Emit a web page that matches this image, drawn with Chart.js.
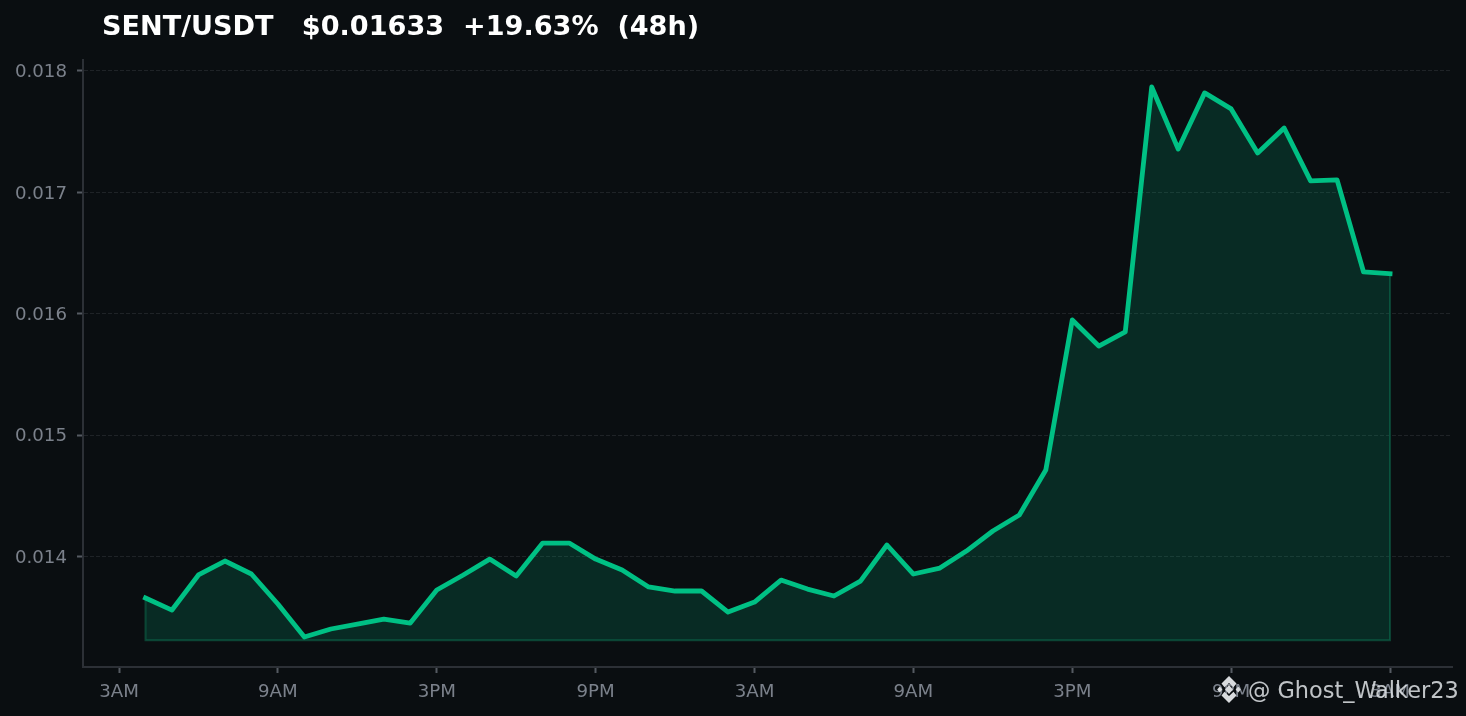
<!DOCTYPE html>
<html>
<head>
<meta charset="utf-8">
<title>SENT/USDT</title>
<script src="https://cdn.jsdelivr.net/npm/chart.js@4/dist/chart.umd.min.js"></script>
<style>
html, body { margin: 0; padding: 0; background: #0a0e11; overflow: hidden; }
#wrap { position: relative; width: 1466px; height: 716px; }
#title { position: absolute; left: 102px; top: 9px; font: bold 27.1px "DejaVu Sans"; color: #fff; white-space: pre; line-height: 34px; }
#mark { position: absolute; left: 1248px; top: 675px; font: 22.4px "DejaVu Sans"; color: rgba(225,228,232,0.85); white-space: pre; line-height: 30px; }
#logo { position: absolute; left: 1217px; top: 676px; width: 24px; height: 27px; }
</style>
</head>
<body>
<div id="wrap">
  <canvas id="chart" width="1466" height="716"></canvas>
  <div id="title">SENT/USDT   $0.01633  +19.63%  (48h)</div>
  <svg id="logo" viewBox="0 0 26 26" preserveAspectRatio="none">
    <g fill="none" stroke="#d8dbde" stroke-width="5">
      <path d="M6.5 9 L13 3.4 L19.5 9"/>
      <path d="M6.5 17 L13 22.6 L19.5 17"/>
    </g>
    <g fill="#d8dbde">
      <rect x="1" y="11" width="4" height="4" transform="rotate(45 3 13)"/>
      <rect x="21" y="11" width="4" height="4" transform="rotate(45 23 13)"/>
      <rect x="10" y="10" width="6" height="6" transform="rotate(45 13 13)"/>
    </g>
  </svg>
  <div id="mark">@ Ghost_Walker23</div>
</div>
<script>
const hours = [1,2,3,4,5,6,7,8,9,10,11,12,13,14,15,16,17,18,19,20,21,22,23,24,
    25,26,27,28,29,30,31,32,33,34,35,36,37,38,39,40,41,42,43,44,45,46,47,48];

const prices = [
    0.013658,0.013559,0.013848,0.013963,0.013856,0.013609,0.013337,0.013403,
    0.013444,0.013485,0.013452,0.013724,0.013848,0.013979,0.013839,0.014111,
    0.014111,0.013979,0.013889,0.013749,0.013716,0.013716,0.013543,0.013625,
    0.013806,0.013732,0.013675,0.013798,0.014095,0.013856,0.013905,0.014045,
    0.014210,0.014342,0.014713,0.015949,0.015734,0.015850,0.017868,0.017357,
    0.017819,0.017687,0.017324,0.017530,0.017094,0.017102,0.016344,0.016330
];

const baseline = 0.01331;
const xTickHours = [0,6,12,18,24,30,36,42,48];
const xTickLabels = ['3AM','9AM','3PM','9PM','3AM','9AM','3PM','9PM','3AM'];
const yTickValues = [0.014,0.015,0.016,0.017,0.018];

const lastIndex = hours.length - 1;
const linePoints = hours.map((h, i) => ({x: h, y: prices[i]}));

// outline of the filled area, left side, bottom and right side
const edgePoints = [
    {x: hours[0], y: prices[0]},
    {x: hours[0], y: baseline},
    {x: hours[lastIndex], y: baseline},
    {x: hours[lastIndex], y: prices[lastIndex]}
];

const tickFont = {family: 'DejaVu Sans', size: 18.2};

// canvas 'middle' baseline sits a bit high for DejaVu, nudge the tick labels down
const nudgeLabels = {
    id: 'nudgeLabels',
    beforeDraw(chart) {
        [chart.scales.x, chart.scales.y].forEach(axis => {
            axis.getLabelItems(chart.chartArea).forEach(item => {
                if (!item.nudged) {
                    item.textOffset += 1.5;
                    item.nudged = true;
                }
            });
        });
    }
};

new Chart(document.getElementById('chart').getContext('2d'), {
    type: 'line',
    plugins: [nudgeLabels],
    data: {
        datasets: [
            {
                data: linePoints,
                borderColor: '#00c084',
                borderWidth: 4.8,
                borderCapStyle: 'square',
                pointRadius: 0,
                tension: 0,
                borderJoinStyle: 'round',
                fill: {value: baseline},
                backgroundColor: 'rgba(0,192,132,0.17)',
                order: 1
            },
            {
                data: edgePoints,
                borderColor: '#0c4032',
                borderWidth: 2,
                pointRadius: 0,
                tension: 0,
                fill: false,
                order: 2
            }
        ]
    },
    options: {
        responsive: false,
        animation: false,
        layout: {padding: {top: 60, right: 14, left: 0, bottom: 0}},
        plugins: {legend: {display: false}, tooltip: {enabled: false}, title: {display: false}},
        scales: {
            x: {
                type: 'linear',
                min: -1.36,
                max: 50.34,
                afterBuildTicks: axis => { axis.ticks = xTickHours.map(v => ({value: v})); },
                afterFit: axis => { axis.height = 49; },
                ticks: {
                    autoSkip: false,
                    maxRotation: 0,
                    color: '#7b818b',
                    font: tickFont,
                    padding: 7,
                    callback: value => xTickLabels[xTickHours.indexOf(value)]
                },
                grid: {drawOnChartArea: false, drawTicks: true, tickLength: 6, tickColor: '#555a62', tickWidth: 2},
                border: {color: '#2c3036', width: 2}
            },
            y: {
                type: 'linear',
                min: 0.01309,
                max: 0.01809,
                afterBuildTicks: axis => { axis.ticks = yTickValues.map(v => ({value: v})); },
                afterFit: axis => { axis.width = 83; },
                ticks: {
                    color: '#7b818b',
                    font: tickFont,
                    padding: 10,
                    callback: value => value.toFixed(3)
                },
                grid: {color: '#1f2327', lineWidth: 1, tickLength: 6, tickColor: '#555a62', tickWidth: 2, drawTicks: true},
                border: {color: '#2c3036', width: 2, dash: [4, 2]}
            }
        }
    }
});
</script>
</body>
</html>
